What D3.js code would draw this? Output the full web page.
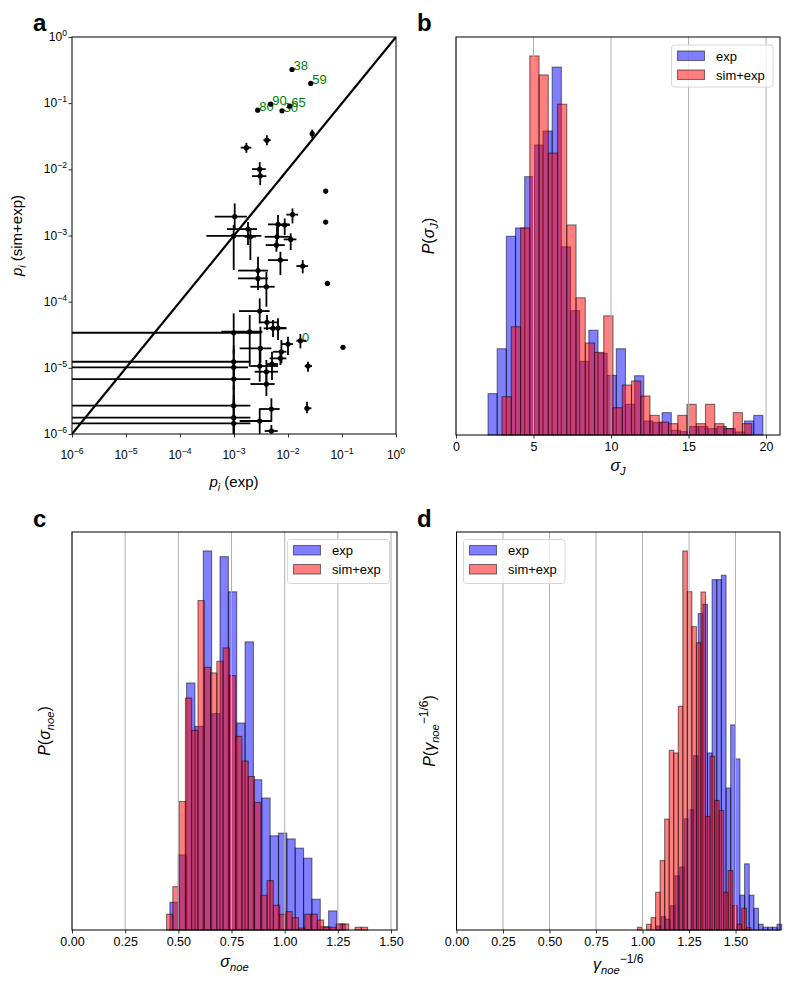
<!DOCTYPE html>
<html>
<head>
<meta charset="utf-8">
<script src="https://cdn.jsdelivr.net/npm/d3@7"></script>
<style>
  body { margin: 0; background: #fff; }
  svg { font-family: "Liberation Sans", Arial, sans-serif; }
</style>
</head>
<body>
<svg id="fig" width="789" height="990"></svg>
<script>

// ---------- panel a : populations, exp vs sim+exp ----------
// [x, y, xLow, xHigh, yLow, yHigh, label]   (0 = error reaches past the axis)
const popPoints = [
    [0.01186, 0.3228, 0.01186, 0.01186, 0.3228, 0.3228, "38"],
    [0.02633, 0.1985, 0.02633, 0.02633, 0.1985, 0.1985, "59"],
    [0.002748, 0.0784, 0.002748, 0.002748, 0.0784, 0.0784, "80"],
    [0.004782, 0.09659, 0.004782, 0.004782, 0.09659, 0.09659, "90"],
    [0.007743, 0.07651, 0.007743, 0.007743, 0.07651, 0.07651, "30"],
    [0.01075, 0.09009, 0.01075, 0.01075, 0.09009, 0.09009, "65"],
    [0.02806, 0.03462, 0.02598, 0.0303, 0.0296, 0.03979, ""],
    [0.004068, 0.02762, 0.003503, 0.004782, 0.02321, 0.03285, ""],
    [0.001696, 0.02128, 0.001331, 0.0021, 0.01775, 0.02514, ""],
    [0.002992, 0.01007, 0.002154, 0.003864, 0.008178, 0.01285, ""],
    [0.003057, 0.007896, 0.002154, 0.003981, 0.005771, 0.009725, ""],
    [0.04991, 0.004686, 0.04683, 0.05319, 0.004296, 0.005024, ""],
    [0.04991, 0.001594, 0.04683, 0.05319, 0.001487, 0.001708, ""],
    [0.01211, 0.002069, 0.009341, 0.01532, 0.001523, 0.002567, ""],
    [0.00103, 0.00193, 0.000439, 0.00174, 0.001207, 0.003054, ""],
    [0.000987, 0.00099, 0.000308, 0.003217, 0.0003002, 0.001436, ""],
    [0.001816, 0.00125, 0.000742, 0.002667, 0.0007161, 0.001594, ""],
    [0.002012, 0.0009559, 0.001578, 0.002523, 0.000425, 0.001294, ""],
    [0.006527, 0.001472, 0.004262, 0.01075, 0.0009559, 0.002033, ""],
    [0.008685, 0.001436, 0.007018, 0.01075, 0.001014, 0.001813, ""],
    [0.006256, 0.0009559, 0.003702, 0.01156, 0.0006384, 0.001353, ""],
    [0.01122, 0.0008733, 0.008327, 0.0143, 0.0006018, 0.001076, ""],
    [0.006099, 0.0007161, 0.003864, 0.008685, 0.0005674, 0.0008519, ""],
    [0.007234, 0.000425, 0.004262, 0.01, 0.0002522, 0.0005674, ""],
    [0.01872, 0.000345, 0.0143, 0.02346, 0.0002676, 0.000425, ""],
    [0.05364, 0.0001889, 0.04991, 0.05795, 0.0001781, 0.0002012, ""],
    [0.002783, 0.000295, 0.001186, 0.004262, 0.0001605, 0.0004767, ""],
    [0.002783, 0.0002249, 0.001186, 0.004262, 0.0001497, 0.00028, ""],
    [0.003981, 0.000168, 0.002012, 0.005671, 0.00008375, 0.0002829, ""],
    [0.002992, 0.00007211, 0.001238, 0.004582, 0.00004701, 0.0001121, ""],
    [0.004084, 0.00004867, 0.002904, 0.006527, 0.00003724, 0.00006275, ""],
    [0.005275, 0.00003951, 0.003548, 0.009341, 0.0000292, 0.00005274, ""],
    [0.006527, 0.00003993, 0.004582, 0.009341, 0.0000263, 0.00005594, ""],
    [0.000987, 0.0000339, 0, 0.003217, 0.00001656, 0.00006658, ""],
    [0.001953, 0.00003511, 0.000585, 0.003357, 0.00001039, 0.00006275, ""],
    [0.003083, 0.0000197, 0.001275, 0.004926, 0.0000117, 0.00004177, ""],
    [0.007546, 0.0000175, 0.005275, 0.009341, 0.0000117, 0.0000263, ""],
    [0.01, 0.00002288, 0.007546, 0.01238, 0.0000156, 0.0000295, ""],
    [0.01697, 0.00002567, 0.0143, 0.02191, 0.0000197, 0.0000324, "0"],
    [0.1043, 0.0000204, 0.1, 0.109, 0.0000195, 0.0000213, ""],
    [0.007234, 0.0000139, 0.004582, 0.009341, 0.00001102, 0.00001733, ""],
    [0.002992, 0.00001065, 0.002012, 0.006527, 0.000006166, 0.00001857, ""],
    [0.005054, 0.00001141, 0.003981, 0.006527, 0.000006543, 0.0000175, ""],
    [0.003981, 0.000008732, 0.002417, 0.006527, 0.000005833, 0.00001312, ""],
    [0.003981, 0.000005691, 0.002012, 0.005671, 0.00000375, 0.000008643, ""],
    [0.02346, 0.00001065, 0.02038, 0.02783, 0.000008732, 0.00001236, ""],
    [0.02248, 0.000002444, 0.02038, 0.02712, 0.000002054, 0.000003075, ""],
    [0.004926, 0.000002386, 0.002904, 0.007018, 0.000001534, 0.000003461, ""],
    [0.002992, 0.000001572, 0.001275, 0.004926, 0, 0.000002386, ""],
    [0.000987, 0.00001236, 0, 0.002012, 0.000006543, 0.0000221, ""],
    [0.000987, 0.00001018, 0, 0.001816, 0.000004621, 0.00001857, ""],
    [0.000987, 0.000006773, 0, 0.002012, 0.000002742, 0.00001312, ""],
    [0.000987, 0.000002676, 0, 0.002012, 0, 0.000005498, ""],
    [0.000987, 0.000001763, 0, 0.002012, 0, 0.000003882, ""],
    [0.000987, 0.000001451, 0, 0.002012, 0, 0.000003264, ""],
    [0.004926, 0.00000111, 0.003702, 0.006447, 0, 0.000001368, ""]
];
const popDecades = [-6, -5, -4, -3, -2, -1, 0];

// ---------- panel b : sigma_J histograms (density) ----------
const sigJExpStart = 2.067, sigJExpWidth = 0.591;
const sigJExp = [0.0259, 0.054, 0.1244, 0.1296, 0.1617, 0.1815, 0.1903, 0.2303, 0.1178, 0.0778,
                 0.0461, 0.0656, 0.0511, 0.0373, 0.054, 0.0192, 0.0371, 0.0088, 0.0078, 0.014,
                 0.0029, 0.0021, 0.0053, 0.0053, 0.004, 0.0053, 0.004, 0.0019, 0.0088, 0.0123];
const sigJSimStart = 2.971, sigJSimWidth = 0.5965;
const sigJSim = [0.024, 0.0678, 0.1296, 0.2373, 0.2254, 0.1765, 0.2071, 0.1315, 0.0859, 0.0576,
                 0.0517, 0.0746, 0.0171, 0.0313, 0.0338, 0.0244, 0.0123, 0.0081, 0.0071, 0.0123,
                 0.0192, 0.0071, 0.0192, 0.0071, 0.004, 0.014, 0.0071];
const sigJTicks = [0, 5, 10, 15, 20];

// ---------- panel c : sigma_noe histograms ----------
const sigNoeExpStart = 0.4602, sigNoeExpWidth = 0.03928;
const sigNoeExp = [0.225, 0.61, 2.007, 1.654, 3.08, 1.758, 3.033, 2.748, 1.682, 2.341, 1.221,
                   1.072, 0.765, 0.787, 0.74, 0.665, 0.583, 0.25, 0.027, 0.155, 0.049];
const sigNoeSimStart = 0.4447, sigNoeSimWidth = 0.02953;
const sigNoeSim = [0.128, 0.352, 1.044, 1.885, 1.622, 2.677, 2.134, 2.089, 2.183, 2.292, 2.067,
                   1.573, 1.373, 1.247, 1.036, 0.282, 0.401, 0.201, 0.128, 0.149, 0.1, 0.016,
                   0.128, 0.128, 0.081, 0.022, 0.022, 0.049, 0.049, 0, 0.022, 0.022];

// ---------- panel d : gamma_noe^-1/6 histograms ----------
const gamExpStart = 1.0748, gamExpWidth = 0.02494;
const gamExp = [0.052, 0.172, 0.138, 0.314, 0.697, 0.809, 1.432, 1.548, 2.245, 4.074, 4.194,
                2.28, 4.512, 4.512, 4.568, 1.828, 2.641, 2.203, 0.448, 0.852, 0.448, 0.28,
                0.074, 0.035, 0.035, 0.035, 0.074];
const gamSimStart = 0.9726, gamSimWidth = 0.0244;
const gamSim = [0.035, 0, 0.074, 0.159, 0.486, 0.894, 1.428, 2.314, 2.28, 2.881, 4.881, 4.357,
                3.906, 3.699, 4.352, 1.462, 2.236, 1.668, 1.539, 0.486, 0.765, 0.314, 0.074,
                0.28, 0.03];
const noeTicks = [0, 0.25, 0.5, 0.75, 1.0, 1.25, 1.5];

const legendNames = ["exp", "sim+exp"];
const blueFill = "rgba(0,0,255,0.5)", redFill = "rgba(255,0,0,0.5)";

const svg = d3.select("#fig");

// text with italic parts, subscripts and superscripts
function richText(parent, x, y, parts, size, anchor, rotate) {
    const t = parent.append("text")
        .attr("x", x).attr("y", y)
        .attr("font-size", size)
        .attr("text-anchor", anchor || "middle");
    if (rotate) t.attr("transform", "rotate(-90," + x + "," + y + ")");
    let cur = 0;
    parts.forEach(function (p) {
        const s = p.shift || 0;
        t.append("tspan")
            .attr("dy", s - cur)
            .attr("font-size", p.scale ? size * p.scale : null)
            .attr("font-style", p.italic ? "italic" : null)
            .text(p.t);
        cur = s;
    });
    return t;
}

function panelLetter(x, y, letter) {
    svg.append("text").attr("x", x).attr("y", y)
        .attr("font-size", 24).attr("font-weight", "bold")
        .text(letter);
}

// ================= panel a =================
const aBox = {x: 72, y: 37, w: 324, h: 397};
const ax = d3.scaleLog().domain([1e-6, 1]).range([aBox.x, aBox.x + aBox.w]);
const ay = d3.scaleLog().domain([1e-6, 1]).range([aBox.y + aBox.h, aBox.y]);
const clampA = v => Math.max(v, 1e-6);

let majors = popDecades.map(d => Math.pow(10, d));
let minors = [];
popDecades.slice(0, -1).forEach(function (d) {
    for (let m = 2; m < 10; m++) minors.push(m * Math.pow(10, d));
});

const aG = svg.append("g");
aG.append("clipPath").attr("id", "clipA").append("rect")
    .attr("x", aBox.x).attr("y", aBox.y).attr("width", aBox.w).attr("height", aBox.h);

const aPlot = aG.append("g").attr("clip-path", "url(#clipA)");

aPlot.append("line")
    .attr("x1", ax(1e-6)).attr("y1", ay(1e-6))
    .attr("x2", ax(1)).attr("y2", ay(1))
    .attr("stroke", "black").attr("stroke-width", 2.2);

// labels under the markers
aPlot.selectAll("text.plabel")
    .data(popPoints.filter(p => p[6] !== ""))
    .join("text")
    .attr("class", "plabel")
    .attr("x", p => ax(p[0]) + 1.5)
    .attr("y", p => ay(p[1]) + 1)
    .attr("font-size", 13)
    .attr("fill", "green")
    .text(p => p[6]);

aPlot.selectAll("line.xerr")
    .data(popPoints)
    .join("line")
    .attr("x1", p => ax(clampA(p[2]))).attr("x2", p => ax(clampA(p[3])))
    .attr("y1", p => ay(p[1])).attr("y2", p => ay(p[1]))
    .attr("stroke", "black").attr("stroke-width", 1.8);

aPlot.selectAll("line.yerr")
    .data(popPoints)
    .join("line")
    .attr("x1", p => ax(p[0])).attr("x2", p => ax(p[0]))
    .attr("y1", p => ay(clampA(p[4]))).attr("y2", p => ay(clampA(p[5])))
    .attr("stroke", "black").attr("stroke-width", 1.8);

aPlot.selectAll("circle")
    .data(popPoints)
    .join("circle")
    .attr("cx", p => ax(p[0])).attr("cy", p => ay(p[1]))
    .attr("r", 2.6).attr("fill", "black");

// axes
const aXAxis = aG.append("g").attr("transform", "translate(0," + (aBox.y + aBox.h) + ")");
aXAxis.call(d3.axisBottom(ax).tickValues(minors).tickSize(2).tickFormat(""));
aXAxis.call(d3.axisBottom(ax).tickValues(majors).tickSize(3.5).tickFormat(""));
const aYAxis = aG.append("g").attr("transform", "translate(" + aBox.x + ",0)");
aYAxis.call(d3.axisLeft(ay).tickValues(minors).tickSize(2).tickFormat(""));
aYAxis.call(d3.axisLeft(ay).tickValues(majors).tickSize(3.5).tickFormat(""));
aG.selectAll(".domain").remove();
aG.selectAll(".tick line").attr("stroke-width", 0.8);

popDecades.forEach(function (d) {
    const v = Math.pow(10, d);
    const sup = d === 0 ? "0" : "\u2212" + Math.abs(d);
    richText(aG, ax(v), aBox.y + aBox.h + 25, [{t: "10"}, {t: sup, shift: -5, scale: 0.72}], 12, "middle");
    richText(aG, aBox.x - 5, ay(v) + 4, [{t: "10"}, {t: sup, shift: -5, scale: 0.72}], 12, "end");
});

aG.append("rect").attr("x", aBox.x).attr("y", aBox.y)
    .attr("width", aBox.w).attr("height", aBox.h)
    .attr("fill", "none").attr("stroke", "black").attr("stroke-width", 1);

richText(aG, aBox.x + aBox.w / 2, 487,
    [{t: "p", italic: true}, {t: "i", italic: true, shift: 4, scale: 0.7}, {t: " (exp)"}], 15);
richText(aG, 22, aBox.y + aBox.h / 2,
    [{t: "p", italic: true}, {t: "i", italic: true, shift: 4, scale: 0.7}, {t: " (sim+exp)"}], 15, "middle", true);

panelLetter(33, 31, "a");

// ================= histogram panels =================
function drawHistPanel(box, xMax, ticks, fmt, expStart, expWidth, expVals,
                       simStart, simWidth, simVals, legendBox, xLabelParts, yLabelParts, xLabelY) {
    const g = svg.append("g");
    const x = d3.scaleLinear().domain([0, xMax]).range([box.x, box.x + box.w]);
    const yMax = d3.max(expVals.concat(simVals)) * 1.05;
    const y = d3.scaleLinear().domain([0, yMax]).range([box.y + box.h, box.y]);

    function bars(vals, start, width, fill) {
        g.append("g").selectAll("rect")
            .data(vals.map((v, i) => ({v: v, x0: start + i * width, x1: start + (i + 1) * width})).filter(d => d.v > 0))
            .join("rect")
            .attr("x", d => x(d.x0))
            .attr("width", d => x(d.x1) - x(d.x0))
            .attr("y", d => y(d.v))
            .attr("height", d => y(0) - y(d.v))
            .attr("fill", fill)
            .attr("stroke", "rgba(0,0,0,0.5)")
            .attr("stroke-width", 1.1);
    }
    bars(expVals, expStart, expWidth, blueFill);
    bars(simVals, simStart, simWidth, redFill);

    // vertical grid
    g.append("g").selectAll("line")
        .data(ticks)
        .join("line")
        .attr("x1", d => x(d)).attr("x2", d => x(d))
        .attr("y1", box.y).attr("y2", box.y + box.h)
        .attr("stroke", "#b0b0b0").attr("stroke-width", 1);

    const xa = g.append("g").attr("transform", "translate(0," + (box.y + box.h) + ")")
        .call(d3.axisBottom(x).tickValues(ticks).tickSize(3.5).tickPadding(4).tickFormat(fmt));
    xa.select(".domain").remove();
    xa.selectAll(".tick line").attr("stroke-width", 0.8);
    xa.selectAll(".tick text").attr("font-size", 12.5).attr("font-family", null).attr("fill", "black");

    g.append("rect").attr("x", box.x).attr("y", box.y)
        .attr("width", box.w).attr("height", box.h)
        .attr("fill", "none").attr("stroke", "black").attr("stroke-width", 1);

    // legend
    const lg = g.append("g");
    lg.append("rect").attr("x", legendBox.x).attr("y", legendBox.y)
        .attr("width", legendBox.w).attr("height", legendBox.h)
        .attr("rx", 3).attr("fill", "white").attr("fill-opacity", 0.8)
        .attr("stroke", "#d6d6d6").attr("stroke-width", 1);
    [blueFill, redFill].forEach(function (fill, i) {
        lg.append("rect")
            .attr("x", legendBox.x + 6).attr("y", legendBox.y + 6 + i * 19)
            .attr("width", 27).attr("height", 9.5)
            .attr("fill", fill).attr("stroke", "rgba(0,0,0,0.5)").attr("stroke-width", 1.1);
        lg.append("text")
            .attr("x", legendBox.x + 44.5).attr("y", legendBox.y + 15.5 + i * 19)
            .attr("font-size", 13).text(legendNames[i]);
    });

    richText(g, box.x + box.w / 2, xLabelY, xLabelParts, 16);
    richText(g, box.x - 22, box.y + box.h / 2, yLabelParts, 16, "middle", true);
}

drawHistPanel({x: 456, y: 37, w: 324, h: 398}, 20.9, sigJTicks, d3.format("d"),
    sigJExpStart, sigJExpWidth, sigJExp, sigJSimStart, sigJSimWidth, sigJSim,
    {x: 671.5, y: 45, w: 101.5, h: 42},
    [{t: "\u03c3", italic: true}, {t: "J", italic: true, shift: 4, scale: 0.7}],
    [{t: "P", italic: true}, {t: "("}, {t: "\u03c3", italic: true}, {t: "J", italic: true, shift: 4, scale: 0.7}, {t: ")", shift: 0}],
    471);
panelLetter(417, 31, "b");

drawHistPanel({x: 72, y: 532, w: 325, h: 398}, 1.528, noeTicks, d3.format(".2f"),
    sigNoeExpStart, sigNoeExpWidth, sigNoeExp, sigNoeSimStart, sigNoeSimWidth, sigNoeSim,
    {x: 287.5, y: 539.5, w: 102, h: 44},
    [{t: "\u03c3", italic: true}, {t: "noe", italic: true, shift: 4, scale: 0.7}],
    [{t: "P", italic: true}, {t: "("}, {t: "\u03c3", italic: true}, {t: "noe", italic: true, shift: 4, scale: 0.7}, {t: ")", shift: 0}],
    967);
panelLetter(33, 527, "c");

drawHistPanel({x: 456.5, y: 532, w: 323.5, h: 398}, 1.739, noeTicks, d3.format(".2f"),
    gamExpStart, gamExpWidth, gamExp, gamSimStart, gamSimWidth, gamSim,
    {x: 463.5, y: 539.5, w: 101.5, h: 44},
    [{t: "\u03b3", italic: true}, {t: "noe", italic: true, shift: 4, scale: 0.7}, {t: "\u22121/6", shift: -7, scale: 0.75}],
    [{t: "P", italic: true}, {t: "("}, {t: "\u03b3", italic: true}, {t: "noe", italic: true, shift: 4, scale: 0.7},
     {t: "\u22121/6", shift: -7, scale: 0.75}, {t: ")", shift: 0}],
    970);
panelLetter(417, 527, "d");

</script>
</body>
</html>
